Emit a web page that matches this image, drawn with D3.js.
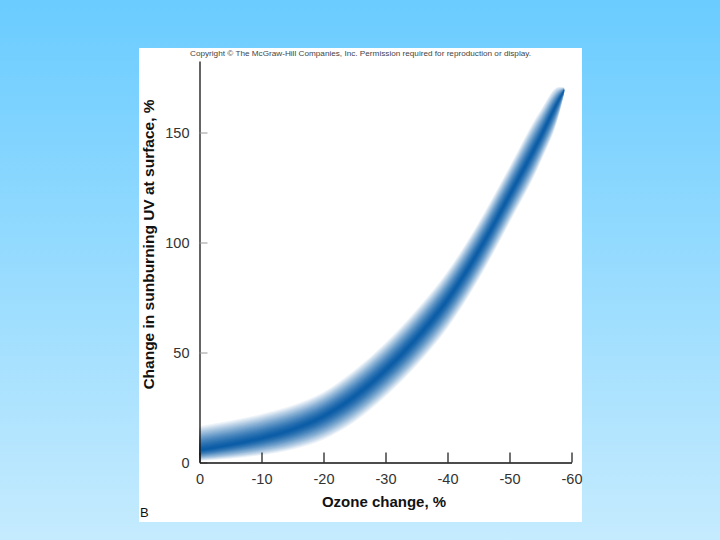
<!DOCTYPE html>
<html>
<head>
<meta charset="utf-8">
<script src="https://cdn.jsdelivr.net/npm/d3@7"></script>
<style>
  body { margin: 0; }
  svg { display: block; font-family: "Liberation Sans", Arial, sans-serif; }
</style>
</head>
<body>
<svg id="chart" width="720" height="540"></svg>
<script>
// ozone change (%) along the curve
const ozone = [0, -5, -10, -15, -20, -25, -30, -35, -40, -45, -50, -55, -58, -58.8];
// centre of the band and its upper / lower edges (change in UV, %)
const uvMid   = [5.5, 8, 11, 15, 21, 30, 42, 56.5, 74, 96, 121.5, 148, 165, 169];
const uvUpper = [17, 19.5, 22.5, 26.5, 32.5, 42.5, 55, 70, 87.5, 109.5, 135, 160.5, 171, 170.5];
const uvLower = [0.5, 1.5, 3, 5.5, 10, 18, 29.5, 43.5, 60.5, 82.5, 108.5, 136, 158, 167.5];

const xTicks = [0, -10, -20, -30, -40, -50, -60];
const yTicks = [0, 50, 100, 150];

const svg = d3.select("#chart");

// page background
const defs = svg.append("defs");
const bg = defs.append("linearGradient").attr("id", "bg")
    .attr("x1", 0).attr("y1", 0).attr("x2", 0).attr("y2", 1);
bg.append("stop").attr("offset", "0%").attr("stop-color", "#6accff");
bg.append("stop").attr("offset", "100%").attr("stop-color", "#c5ebfe");
svg.append("rect").attr("width", 720).attr("height", 540).attr("fill", "url(#bg)");

// white figure panel
svg.append("rect")
    .attr("x", 139).attr("y", 48).attr("width", 443).attr("height", 474)
    .attr("fill", "#fff");

svg.append("text")
    .attr("x", 360.5).attr("y", 56)
    .attr("text-anchor", "middle")
    .attr("font-size", 8)
    .attr("fill", "#444")
    .attr("textLength", 341).attr("lengthAdjust", "spacingAndGlyphs")
    .text("Copyright \u00A9 The McGraw-Hill Companies, Inc. Permission required for reproduction or display.");

const x = d3.scaleLinear().domain([0, -60]).range([199.5, 571.5]);
const y = d3.scaleLinear().domain([0, 182.5]).range([462.5, 61]);

const rows = ozone.map((o, i) => ({ o, m: uvMid[i], u: uvUpper[i], l: uvLower[i] }));

// blurred band: nested areas, lighter on the outside, darker towards the centre
const core = "#0a5ca6";
const layers = d3.range(30, 0, -1).map(k => k / 30);
const band = svg.append("g");
layers.forEach(t => {
  const area = d3.area()
      .curve(d3.curveMonotoneX)
      .x(d => x(d.o))
      .y0(d => y(d.m - (d.m - d.l) * t))
      .y1(d => y(d.m + (d.u - d.m) * t));
  band.append("path")
      .datum(rows)
      .attr("d", area)
      .attr("fill", d3.interpolateRgb("#ffffff", core)(1 - Math.pow(t, 1.4)));
});

// y axis
const yAxis = svg.append("g")
    .attr("transform", "translate(199.5,0)")
    .call(d3.axisLeft(y).tickValues(yTicks).tickSizeInner(-8).tickSizeOuter(0).tickPadding(10));
yAxis.select(".domain").attr("stroke", "#111").attr("stroke-width", 1.3);
yAxis.selectAll(".tick line").attr("stroke", "#999");
yAxis.selectAll(".tick text").attr("font-size", 14.5).attr("fill", "#333")
    .attr("font-family", "Liberation Sans, Arial, sans-serif");

// x axis
const xAxis = svg.append("g")
    .attr("transform", "translate(0,462.5)")
    .call(d3.axisBottom(x).tickValues(xTicks).tickSizeInner(-10).tickSizeOuter(0).tickPadding(11.5)
      .tickFormat(d => d === 0 ? "0" : "-" + Math.abs(d)));
xAxis.select(".domain").attr("stroke", "#111").attr("stroke-width", 1.3);
xAxis.selectAll(".tick line").attr("stroke", "#111").attr("stroke-width", 1.2);
xAxis.selectAll(".tick text").attr("font-size", 14.5).attr("fill", "#333")
    .attr("font-family", "Liberation Sans, Arial, sans-serif");

// axis titles
svg.append("text")
    .attr("x", 384).attr("y", 507)
    .attr("text-anchor", "middle")
    .attr("font-size", 15).attr("font-weight", "bold").attr("fill", "#111")
    .text("Ozone change, %");

svg.append("text")
    .attr("transform", "translate(154,244.5) rotate(-90)")
    .attr("text-anchor", "middle")
    .attr("font-size", 15.5).attr("font-weight", "bold").attr("fill", "#111")
    .text("Change in sunburning UV at surface, %");

svg.append("text")
    .attr("x", 140).attr("y", 517)
    .attr("font-size", 13).attr("fill", "#111")
    .text("B");
</script>
</body>
</html>
